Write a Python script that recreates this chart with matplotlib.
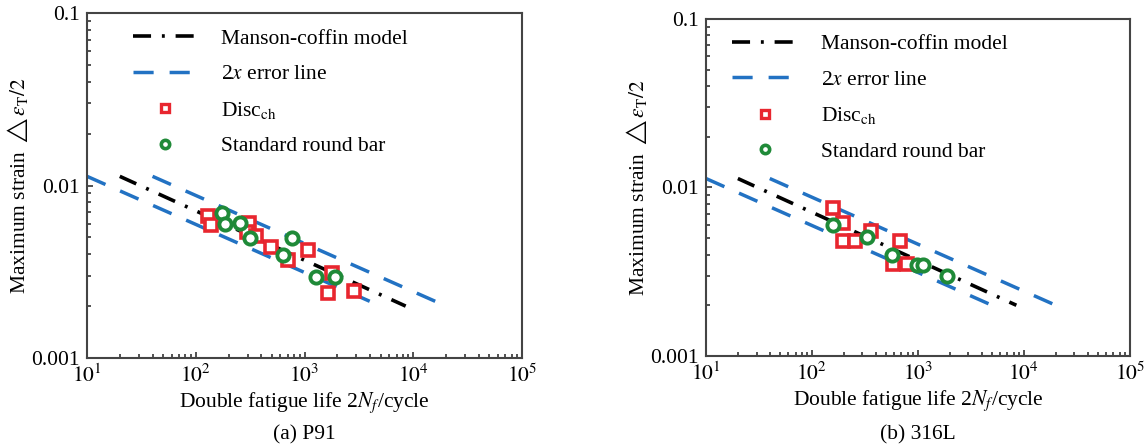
import matplotlib
matplotlib.use('Agg')
import matplotlib.pyplot as plt
from matplotlib.ticker import LogLocator, NullFormatter, FixedLocator, FixedFormatter
from matplotlib.lines import Line2D

plt.rcParams['font.family'] = ['Liberation Serif', 'DejaVu Serif']
plt.rcParams['mathtext.fontset'] = 'stix'

# Manson-coffin model and 2x error lines (end points)
model_n = [20, 8500]
model_eps = [0.0113, 0.002]
lower_n = [10, 5000]
lower_eps = [0.0113, 0.002]
upper_n = [40, 20000]
upper_eps = [0.0113, 0.002]

# (a) P91
p91_disc_n = [130, 138, 311, 294, 358, 492, 701, 1083, 1780, 1655, 2852]
p91_disc_eps = [0.00665, 0.0059, 0.00608, 0.0054, 0.0051, 0.00438, 0.0037, 0.00423, 0.00312, 0.00239, 0.00246]
p91_bar_n = [175, 186, 255, 315, 773, 631, 1276, 1907]
p91_bar_eps = [0.00695, 0.00596, 0.00604, 0.00498, 0.00498, 0.00395, 0.00294, 0.00296]

# (b) 316L
l316_disc_n = [159, 197, 197, 255, 358, 676, 585, 782]
l316_disc_eps = [0.00759, 0.00614, 0.00481, 0.00481, 0.00552, 0.00481, 0.00352, 0.00352]
l316_bar_n = [157, 328, 565, 972, 1107, 1888]
l316_bar_eps = [0.00598, 0.00506, 0.00397, 0.00347, 0.00347, 0.00298]

legend_labels = ['Manson-coffin model', r'2$x$ error line', r'Disc$_{\mathrm{ch}}$', 'Standard round bar']
x_ticks = [1e1, 1e2, 1e3, 1e4, 1e5]
x_ticklabels = [r'$10^{1}$', r'$10^{2}$', r'$10^{3}$', r'$10^{4}$', r'$10^{5}$']
y_ticks = [0.001, 0.01, 0.1]
y_ticklabels = ['0.001', '0.01', '0.1']

BLUE = '#2272c3'
RED = '#e8262f'
GREEN = '#1f8a38'
FS = 15.5

fig = plt.figure(figsize=(11.47, 4.47), dpi=100)
ax1 = fig.add_axes([0.0759, 0.199, 0.3793, 0.772])
ax2 = fig.add_axes([0.6155, 0.2036, 0.3695, 0.754])


def draw(ax, disc_n, disc_eps, bar_n, bar_eps, leg_x, caption):
    ax.plot(lower_n, lower_eps, color=BLUE, lw=2.5, dashes=(5.8, 4.6))
    ax.plot(upper_n, upper_eps, color=BLUE, lw=2.5, dashes=(5.8, 4.6))
    ax.plot(model_n, model_eps, color='black', lw=2.6, dashes=(5.0, 3.0, 0.8, 3.0))
    ax.plot(disc_n, disc_eps, 's', ms=8.3, mfc='white', mec=RED, mew=2.6, ls='none')
    ax.plot(bar_n, bar_eps, 'o', ms=8.8, mfc='white', mec=GREEN, mew=2.8, ls='none')

    ax.set_xscale('log')
    ax.set_yscale('log')
    ax.set_xlim(10, 1e5)
    ax.set_ylim(0.001, 0.1)

    ax.xaxis.set_major_locator(FixedLocator(x_ticks))
    ax.xaxis.set_major_formatter(FixedFormatter(x_ticklabels))
    ax.yaxis.set_major_locator(FixedLocator(y_ticks))
    ax.yaxis.set_major_formatter(FixedFormatter(y_ticklabels))
    ax.xaxis.set_minor_locator(LogLocator(base=10, subs=range(2, 10)))
    ax.yaxis.set_minor_locator(LogLocator(base=10, subs=range(2, 10)))
    ax.xaxis.set_minor_formatter(NullFormatter())
    ax.yaxis.set_minor_formatter(NullFormatter())
    ax.tick_params(which='both', direction='in', top=False, right=False,
                   colors='#333333', labelcolor='black', labelsize=FS, pad=5)
    ax.tick_params(which='major', length=4, width=1.2)
    ax.tick_params(which='minor', length=3, width=1.2)
    for s in ax.spines.values():
        s.set_color('#444444')
        s.set_linewidth(1.5)

    ax.set_xlabel(r'Double fatigue life 2$N_f$/cycle', fontsize=FS, labelpad=2)
    ax.set_ylabel(r'Maximum strain $\triangle\varepsilon_{\mathrm{T}}/2$', fontsize=FS, labelpad=1)

    handles = [
        Line2D([], [], color='black', lw=2.6, dashes=(5.0, 3.0, 0.8, 3.0)),
        Line2D([], [], color=BLUE, lw=2.5, dashes=(5.8, 4.6)),
        Line2D([], [], marker='s', ms=6, mfc='white', mec=RED, mew=2.4, ls='none'),
        Line2D([], [], marker='o', ms=6, mfc='white', mec=GREEN, mew=2.6, ls='none'),
    ]
    ax.legend(handles, legend_labels, loc='upper left', bbox_to_anchor=(leg_x, 0.955),
              frameon=False, fontsize=FS, handlelength=3.0, handletextpad=1.1,
              labelspacing=0.72, borderpad=0, borderaxespad=0)

    pos = ax.get_position()
    fig.text((pos.x0 + pos.x1) / 2, 0.027, caption, ha='center', va='center', fontsize=FS)


draw(ax1, p91_disc_n, p91_disc_eps, p91_bar_n, p91_bar_eps, 0.105, '(a) P91')
draw(ax2, l316_disc_n, l316_disc_eps, l316_bar_n, l316_bar_eps, 0.062, '(b) 316L')

fig.savefig('out.png', dpi=100)
